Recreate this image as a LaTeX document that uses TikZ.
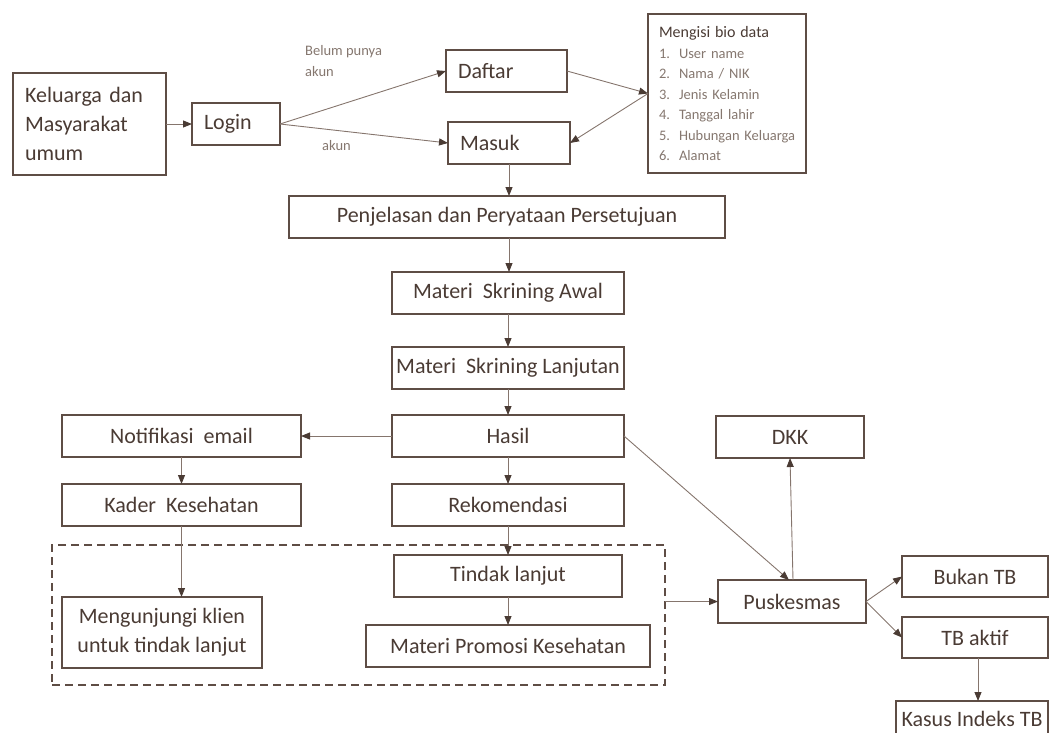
\documentclass[tikz,border=0pt]{standalone}
\usepackage{fontspec}
\setmainfont{Carlito}
\usetikzlibrary{arrows.meta}
\definecolor{ink}{HTML}{4A3B34}
\definecolor{edge}{HTML}{5E4D45}
\definecolor{wire}{HTML}{85756D}
\definecolor{soft}{HTML}{85776F}
\tikzset{
  box/.style={draw=edge, line width=1.5pt, text=ink, inner sep=0pt, outer sep=0pt,
    font=\fontsize{22}{29}\selectfont},
  lbox/.style={box, align=left, inner xsep=12pt},
  grpbox/.style={draw=edge, line width=1.5pt, dash pattern=on 8pt off 5pt,
    inner sep=0pt, outer sep=0pt},
  link/.style={draw=wire, line width=0.9pt,
    -{Triangle[length=9pt,width=7pt,color=ink]}},
  note/.style={text=soft, font=\fontsize{14.5}{21}\selectfont, align=left, inner sep=0pt}
}
% box from its corners: name, x1, y1, x2, y2, text
\newcommand\cbox[6]{\node[box, minimum width={(#4-#2)*1pt}, minimum height={(#5-#3)*1pt}]
  (#1) at ({(#2+#4)/2},{(#3+#5)/2}) {#6};}
% numbered entry of the bio data list
\newcommand\bioitem[2]{\color{soft}\makebox[20pt][l]{#1.}\mbox{#2}}
\begin{document}
\begin{tikzpicture}[x=1pt,y=-1pt]
\useasboundingbox (0,0) rectangle (1049,732);
\clip (0,0) rectangle (1049,732);

% entry and account boxes
\node[lbox, text width=129pt, minimum height=102pt] (kel) at (89.5,124) {Keluarga dan\\Masyarakat\\umum};
\node[lbox, text width=64pt, minimum height=42pt] (login) at (236,124) {Login};
\node[lbox, text width=97pt, minimum height=42pt] (daftar) at (506.5,71) {Daftar};
\node[lbox, text width=98pt, minimum height=42pt] (masuk) at (509,143) {Masuk};
\node[lbox, inner xsep=11pt, text width=136pt, minimum height=159pt,
  font=\fontsize{14.5}{20.5}\selectfont] (bio) at (727,93.5)
  {{\fontsize{16}{20.5}\selectfont Mengisi bio data}\\
   \bioitem{1}{User name}\\
   \bioitem{2}{Nama / NIK}\\
   \bioitem{3}{Jenis Kelamin}\\
   \bioitem{4}{Tanggal lahir}\\
   \bioitem{5}{Hubungan Keluarga}\\
   \bioitem{6}{Alamat}};

% main flow
\cbox{penj}{289}{196}{725}{238}{Penjelasan dan Peryataan Persetujuan}
\cbox{awal}{392}{272}{624}{314}{Materi~ Skrining Awal}
\cbox{lanj}{392}{347}{624}{389}{Materi~ Skrining Lanjutan}
\cbox{hasil}{392}{415}{624}{457}{Hasil}
\cbox{notif}{62}{415}{301}{457}{Notifikasi~ email}
\cbox{kader}{62}{484}{301}{526}{Kader~ Kesehatan}
\cbox{rekom}{392}{484}{624}{526}{Rekomendasi}

% follow-up group
\node[grpbox, minimum width=613pt, minimum height=140pt] (grp) at (358.5,615) {};
\cbox{tindak}{394}{555}{622}{597}{Tindak lanjut}
\node[box, align=center, minimum width=200pt, minimum height=71pt] (kunj) at (162,632.5)
  {Mengunjungi klien\\untuk tindak lanjut};
\cbox{promo}{366}{625}{650}{667}{Materi Promosi Kesehatan}

% health services
\cbox{pusk}{718}{580}{866}{623}{Puskesmas}
\cbox{dkk}{716}{416}{864}{458}{DKK}
\cbox{bukan}{902}{556}{1048}{597}{Bukan TB}
\cbox{aktif}{902}{617}{1048}{658}{TB aktif}
\cbox{kasus}{896}{701}{1048}{737}{Kasus Indeks TB}

% labels on the login branches
\node[note, anchor=north west] (lblbelum) at (305,45) {Belum punya\\akun};
\node[note, anchor=north west] (lblakun) at (322,140) {akun};

% connectors
\draw[link] (kel.east) -- (login.west);
\draw[link] (login.east) -- (daftar.west);
\draw[link] (login.east) -- (masuk.west);
\draw[link] (daftar.east) -- (bio.west);
\draw[link] (bio.west) -- (masuk.east);
\draw[link] (masuk.south) -- (masuk.south |- penj.north);
\draw[link] (penj.south -| masuk.south) -- (masuk.south |- awal.north);
\draw[link] (awal.south) -- (lanj.north);
\draw[link] (lanj.south) -- (hasil.north);
\draw[link] (hasil.west) -- (notif.east);
\draw[link] (notif.south) -- (kader.north);
\draw[link] (kader.south) -- (kader.south |- kunj.north);
\draw[link] (hasil.south) -- (rekom.north);
\draw[link] (rekom.south) -- (rekom.south |- tindak.north);
\draw[link] (tindak.south) -- (tindak.south |- promo.north);
\draw[link] (hasil.east) -- ([xshift=-3pt]pusk.north);
\draw[link] ([xshift=1pt]pusk.north) -- (dkk.south);
\draw[link] (pusk.west -| grp.east) -- (pusk.west);
\draw[link] (pusk.east) -- (bukan.west);
\draw[link] (pusk.east) -- (aktif.west);
\draw[link] ([xshift=3pt]aktif.south) -- ([xshift=3pt]aktif.south |- kasus.north);
\end{tikzpicture}
\end{document}
